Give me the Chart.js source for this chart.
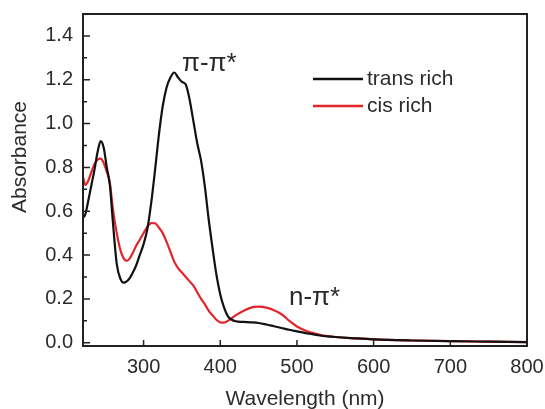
<!DOCTYPE html>
<html>
<head>
<meta charset="utf-8">
<script src="https://cdn.jsdelivr.net/npm/chart.js@4.4.1/dist/chart.umd.min.js"></script>
<style>
  html, body { margin: 0; padding: 0; background: #fff; }
  #wrap { width: 545px; height: 409px; }
</style>
</head>
<body>
<div id="wrap"><canvas id="spectrum"></canvas></div>
<script>
// wavelength grid (nm) shared by both spectra
const wavelengths = [221, 224, 228, 232, 236, 240, 244, 248, 252, 256, 260, 265, 270, 274, 278, 282, 286, 290, 295, 300,
  305, 310, 315, 320, 325, 330, 335, 340, 345, 350, 355, 360, 365, 370, 375, 380, 385, 390, 395, 400,
  405, 410, 415, 420, 430, 440, 450, 460, 470, 480, 490, 500, 510, 520, 530, 540, 550, 575, 600, 650,
  700, 750, 800];

const transRich = [0.57, 0.585, 0.65, 0.72, 0.79, 0.87, 0.92, 0.89, 0.80, 0.72, 0.55, 0.36, 0.29, 0.274, 0.28, 0.295, 0.32, 0.35, 0.40, 0.45,
  0.52, 0.64, 0.79, 0.95, 1.08, 1.165, 1.21, 1.233, 1.21, 1.19, 1.178, 1.11, 1.01, 0.91, 0.83, 0.71, 0.56, 0.43, 0.31, 0.22,
  0.16, 0.12, 0.105, 0.098, 0.095, 0.093, 0.09, 0.083, 0.075, 0.067, 0.059, 0.052, 0.045, 0.039, 0.033, 0.029, 0.026, 0.02, 0.015, 0.01,
  0.007, 0.005, 0.003];

const cisRich = [0.756, 0.72, 0.74, 0.78, 0.815, 0.835, 0.84, 0.82, 0.78, 0.73, 0.61, 0.50, 0.42, 0.385, 0.373, 0.385, 0.41, 0.44, 0.47, 0.50,
  0.53, 0.546, 0.545, 0.525, 0.50, 0.46, 0.415, 0.37, 0.34, 0.32, 0.30, 0.28, 0.26, 0.23, 0.20, 0.175, 0.145, 0.125, 0.105, 0.093,
  0.092, 0.10, 0.112, 0.125, 0.145, 0.16, 0.165, 0.16, 0.148, 0.13, 0.10, 0.074, 0.057, 0.045, 0.036, 0.03, 0.026, 0.02, 0.015, 0.01,
  0.007, 0.005, 0.003];

const seriesNames = ["trans rich", "cis rich"];
const xTicks = [300, 400, 500, 600, 700, 800];
const yTicks = [0.0, 0.2, 0.4, 0.6, 0.8, 1.0, 1.2, 1.4];
const yMinorTicks = [0.1, 0.3, 0.5, 0.7, 0.9, 1.1, 1.3];

const FONT = "'Liberation Sans', Arial, sans-serif";
const TEXT = "#2b2b2b";

const toPoints = ys => wavelengths.map((x, i) => ({ x: x, y: ys[i] }));

// keep the plot box where the layout padding puts it
const noEdgePadding = s => {
  s.paddingLeft = 0; s.paddingRight = 0; s.paddingTop = 0; s.paddingBottom = 0;
};

// frame, inward ticks, legend and band labels
const decorations = {
  id: "decorations",
  afterDraw(chart) {
    const { ctx, chartArea: a } = chart;
    const xs = chart.scales.x, ys = chart.scales.y;
    ctx.save();
    ctx.strokeStyle = "#222";
    ctx.lineWidth = 2;
    ctx.strokeRect(a.left, a.top, a.right - a.left, a.bottom - a.top);

    ctx.lineWidth = 1.5;
    ctx.beginPath();
    xTicks.forEach(v => {
      const px = xs.getPixelForValue(v);
      ctx.moveTo(px, a.bottom);
      ctx.lineTo(px, a.bottom - 6);
    });
    yTicks.forEach(v => {
      const py = ys.getPixelForValue(v);
      ctx.moveTo(a.left, py);
      ctx.lineTo(a.left + 7, py);
    });
    yMinorTicks.forEach(v => {
      const py = ys.getPixelForValue(v);
      ctx.moveTo(a.left, py);
      ctx.lineTo(a.left + 4, py);
    });
    ctx.stroke();

    // legend
    ctx.font = "21px " + FONT;
    ctx.textBaseline = "middle";
    chart.data.datasets.forEach((ds, i) => {
      const y = 79 + i * 27;
      ctx.strokeStyle = ds.borderColor;
      ctx.lineWidth = 2.5;
      ctx.beginPath();
      ctx.moveTo(313, y);
      ctx.lineTo(363, y);
      ctx.stroke();
      ctx.fillStyle = TEXT;
      ctx.textAlign = "left";
      ctx.fillText(ds.label, 367, y);
    });

    // band labels
    ctx.font = "26px " + FONT;
    ctx.fillText("\u03c0-\u03c0*", 182, 64);
    ctx.fillText("n-\u03c0*", 289, 298);

    // y axis title
    ctx.font = "21px " + FONT;
    ctx.translate(20, 157);
    ctx.rotate(-Math.PI / 2);
    ctx.textAlign = "center";
    ctx.fillText("Absorbance", 0, 0);
    ctx.restore();
  }
};

new Chart(document.getElementById("spectrum"), {
  type: "line",
  data: {
    datasets: [
      { label: seriesNames[0], data: toPoints(transRich), borderColor: "#111111", borderWidth: 2.2 },
      { label: seriesNames[1], data: toPoints(cisRich), borderColor: "#e3242b", borderWidth: 2.2 }
    ]
  },
  options: {
    responsive: true,
    maintainAspectRatio: false,
    animation: false,
    devicePixelRatio: 1,
    layout: { padding: { left: 0, top: 14, right: 18, bottom: 0 } },
    elements: {
      point: { radius: 0 },
      line: { cubicInterpolationMode: "monotone", fill: false }
    },
    plugins: {
      legend: { display: false },
      tooltip: { enabled: false }
    },
    scales: {
      x: {
        type: "linear",
        min: 221,
        max: 800,
        afterBuildTicks: s => { s.ticks = xTicks.map(v => ({ value: v })); },
        afterFit: s => { s.height = 63; noEdgePadding(s); },
        grid: { display: false, drawTicks: false },
        border: { display: false },
        ticks: { color: TEXT, font: { family: FONT, size: 20 }, padding: 9, maxRotation: 0 },
        title: { display: true, text: "Wavelength (nm)", color: TEXT, font: { family: FONT, size: 21 }, padding: { top: 8, bottom: -3 } }
      },
      y: {
        min: -0.015,
        max: 1.5,
        afterBuildTicks: s => { s.ticks = yTicks.map(v => ({ value: v })); },
        afterFit: s => { s.width = 83; noEdgePadding(s); },
        grid: { display: false, drawTicks: false },
        border: { display: false },
        ticks: { color: TEXT, font: { family: FONT, size: 20 }, padding: 10, callback: v => v.toFixed(1) }
      }
    }
  },
  plugins: [decorations]
});
</script>
</body>
</html>
